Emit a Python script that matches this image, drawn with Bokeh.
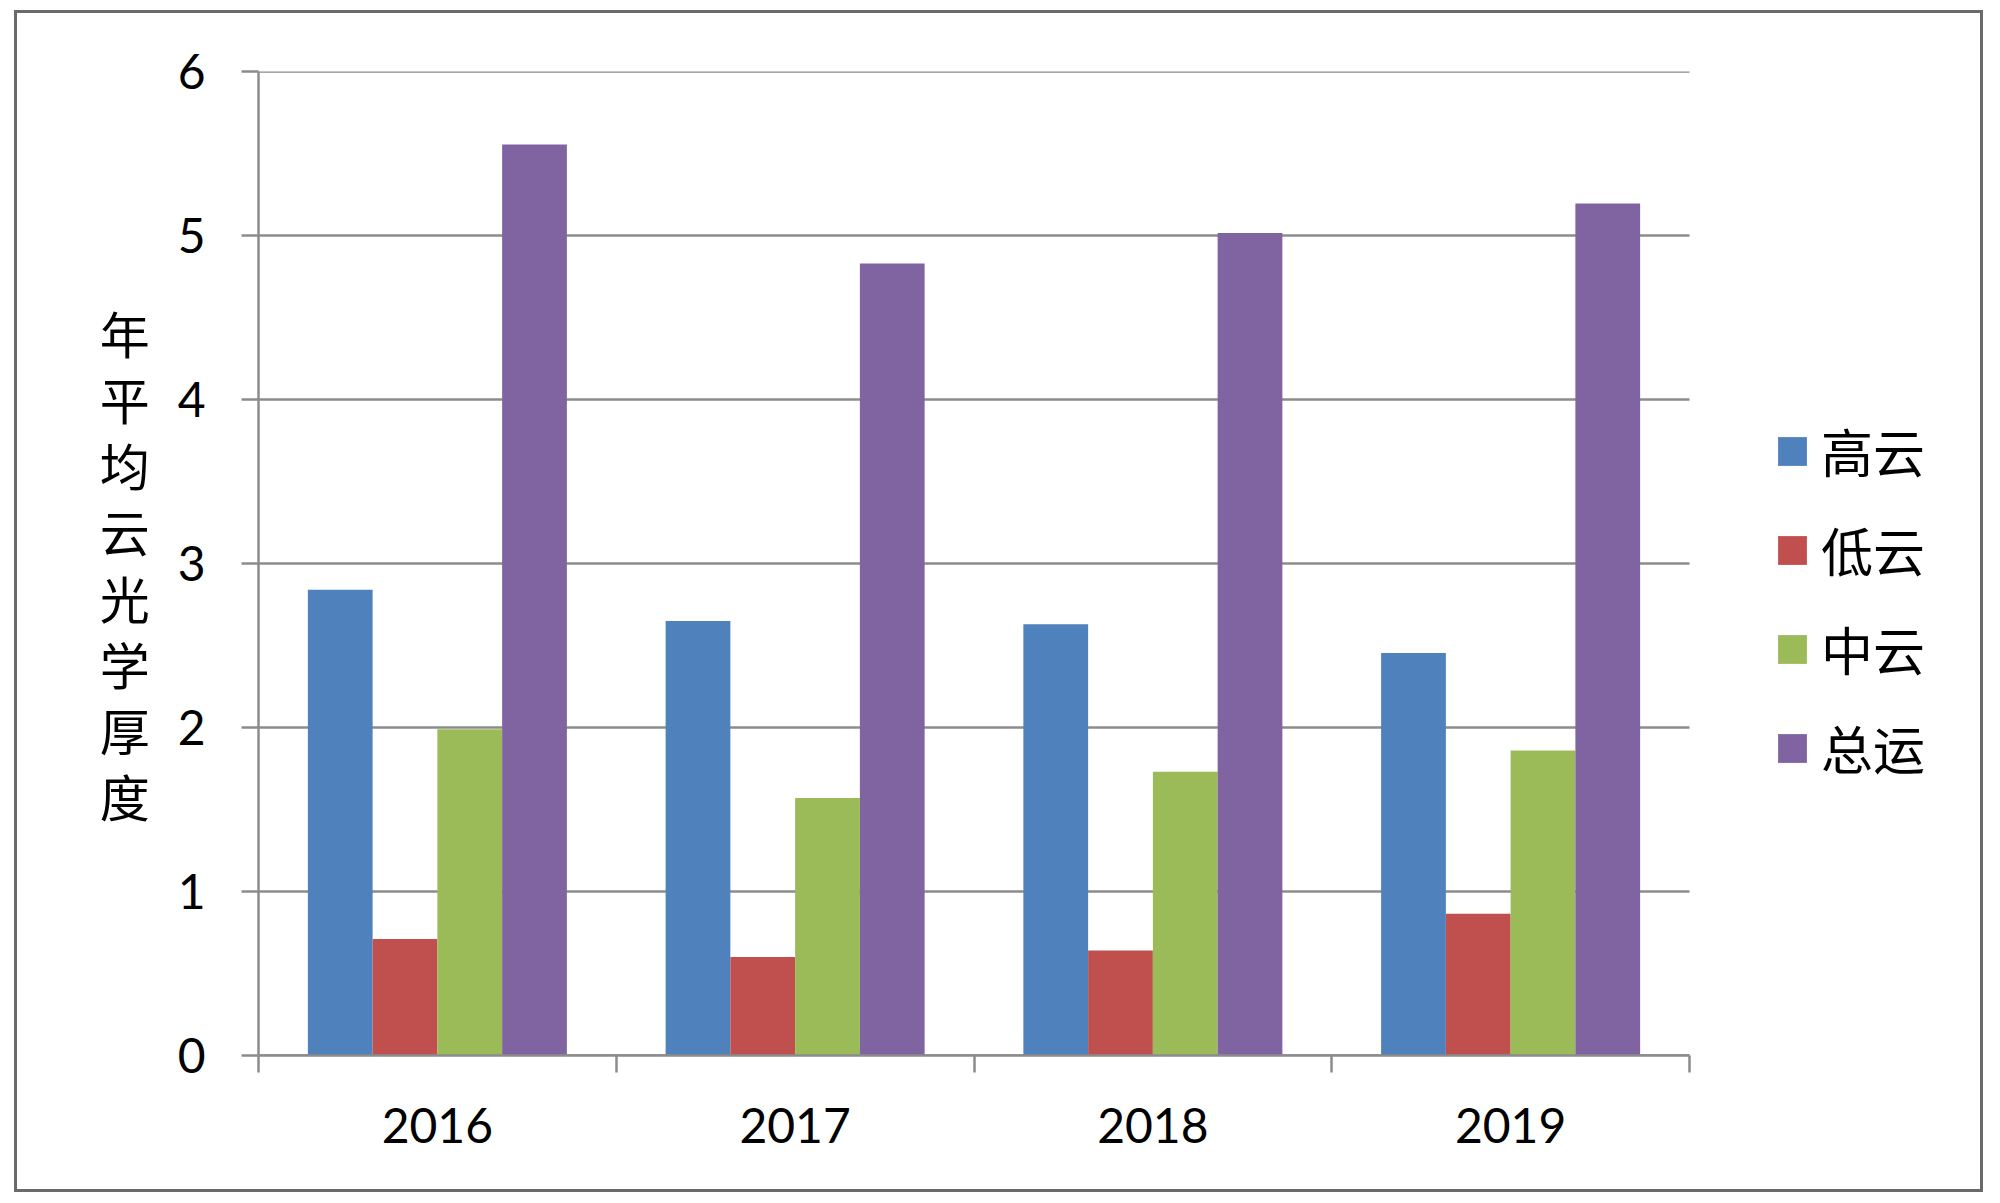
from bokeh.plotting import figure
from bokeh.models import (Range1d, LinearAxis, FixedTicker, Spacer,
                          Legend, LegendItem, ColumnDataSource)
from bokeh.layouts import column, row
from bokeh.transform import dodge
from bokeh.embed import file_html
from bokeh.resources import INLINE

years = ["2016", "2017", "2018", "2019"]
series_names = ["高云", "低云", "中云", "总运"]
high_cloud = [2.84, 2.65, 2.63, 2.455]
low_cloud = [0.71, 0.60, 0.64, 0.865]
mid_cloud = [1.99, 1.57, 1.73, 1.86]
total_cloud = [5.555, 4.83, 5.015, 5.195]
colors = ["#4F81BD", "#C0504D", "#9BBB59", "#8064A2"]
y_ticks = [0, 1, 2, 3, 4, 5, 6]
y_title = "年平均云光学厚度"

# category slot centres on a linear axis (slot i spans [i, i+1])
n = len(years)
xpos = [i + 0.5 for i in range(n)]
x_edges = list(range(n + 1))
src = ColumnDataSource(dict(x=xpos, year=years, high=high_cloud, low=low_cloud,
                            mid=mid_cloud, total=total_cloud))

GRID = "#8c8c8c"
NUM_FONT = "Lato"
CJK_FONT = "Noto Sans CJK SC"

# layout (pixels): the plotting frame extends to the right edge so the legend
# can live inside it; the category area occupies PLOT_PX of the FRAME_PX width
CANVAS_W, CANVAS_H = 1969, 1182
BORDER_LEFT = 241
FRAME_PX = 1728
PLOT_PX = 1431
x_end = n * FRAME_PX / PLOT_PX

p = figure(x_range=Range1d(0, x_end),
           y_range=Range1d(0, 6),
           width=CANVAS_W, height=CANVAS_H,
           x_axis_location=None, y_axis_location="left",
           toolbar_location=None, output_backend="svg",
           min_border_left=BORDER_LEFT, min_border_right=0,
           min_border_top=58, min_border_bottom=140)
p.styles = {"border": "3px solid #6a6a6a"}
p.outline_line_color = None
p.background_fill_color = "white"
p.border_fill_color = "white"
p.xgrid.visible = False
p.ygrid.visible = False

# horizontal gridlines only across the category area
p.segment(x0=[0] * len(y_ticks), x1=[n] * len(y_ticks), y0=y_ticks, y1=y_ticks,
          line_color=GRID, line_width=2.5, level="underlay")

ya = p.yaxis[0]
ya.ticker = FixedTicker(ticks=y_ticks)
ya.axis_line_color = GRID
ya.axis_line_width = 2.5
ya.major_tick_line_color = GRID
ya.major_tick_line_width = 2.5
ya.major_tick_out = 17
ya.major_tick_in = 0
ya.minor_tick_line_color = None
ya.major_label_text_font = NUM_FONT
ya.major_label_text_font_size = "48px"
ya.major_label_text_color = "black"
ya.major_label_standoff = 36
ya.axis_label = "\n".join(y_title)
ya.axis_label_orientation = "horizontal"
ya.axis_label_text_font = CJK_FONT
ya.axis_label_text_font_size = "50px"
ya.axis_label_text_font_style = "normal"
ya.axis_label_text_color = "black"
ya.axis_label_text_line_height = 0.92
ya.axis_label_standoff = 25

# x axis: labels at slot centres, tick marks (minor ticks) on slot boundaries
x_axis = LinearAxis(ticker=FixedTicker(ticks=xpos, minor_ticks=x_edges),
                    bounds=(0, n),
                    major_label_overrides={x: y for x, y in zip(xpos, years)},
                    axis_line_color=GRID, axis_line_width=2.5,
                    major_tick_line_color=None, major_tick_out=0, major_tick_in=0,
                    minor_tick_line_color=GRID, minor_tick_line_width=2.5,
                    minor_tick_out=17, minor_tick_in=0,
                    major_label_text_font=NUM_FONT,
                    major_label_text_font_size="48px",
                    major_label_text_color="black",
                    major_label_standoff=35)
p.add_layout(x_axis, "below")

bw = 0.181
fields = ["high", "low", "mid", "total"]
items = []
for i, (f, c, name) in enumerate(zip(fields, colors, series_names)):
    r = p.vbar(x=dodge("x", (i - 1.5) * bw), top=f, bottom=0,
               width=bw, source=src, fill_color=c, line_color=None)
    items.append(LegendItem(label=name, renderers=[r]))

legend = Legend(items=items, location=(1516, 270),
                glyph_width=36, glyph_height=36, label_height=60, spacing=24,
                padding=0, margin=0, border_line_color=None,
                background_fill_alpha=0, label_standoff=11,
                label_text_font=CJK_FONT, label_text_font_size="52px",
                label_text_color="black")
p.add_layout(legend)

layout = column(Spacer(height=10), row(Spacer(width=14), p))

open("out.html", "w").write(file_html(layout, INLINE))
